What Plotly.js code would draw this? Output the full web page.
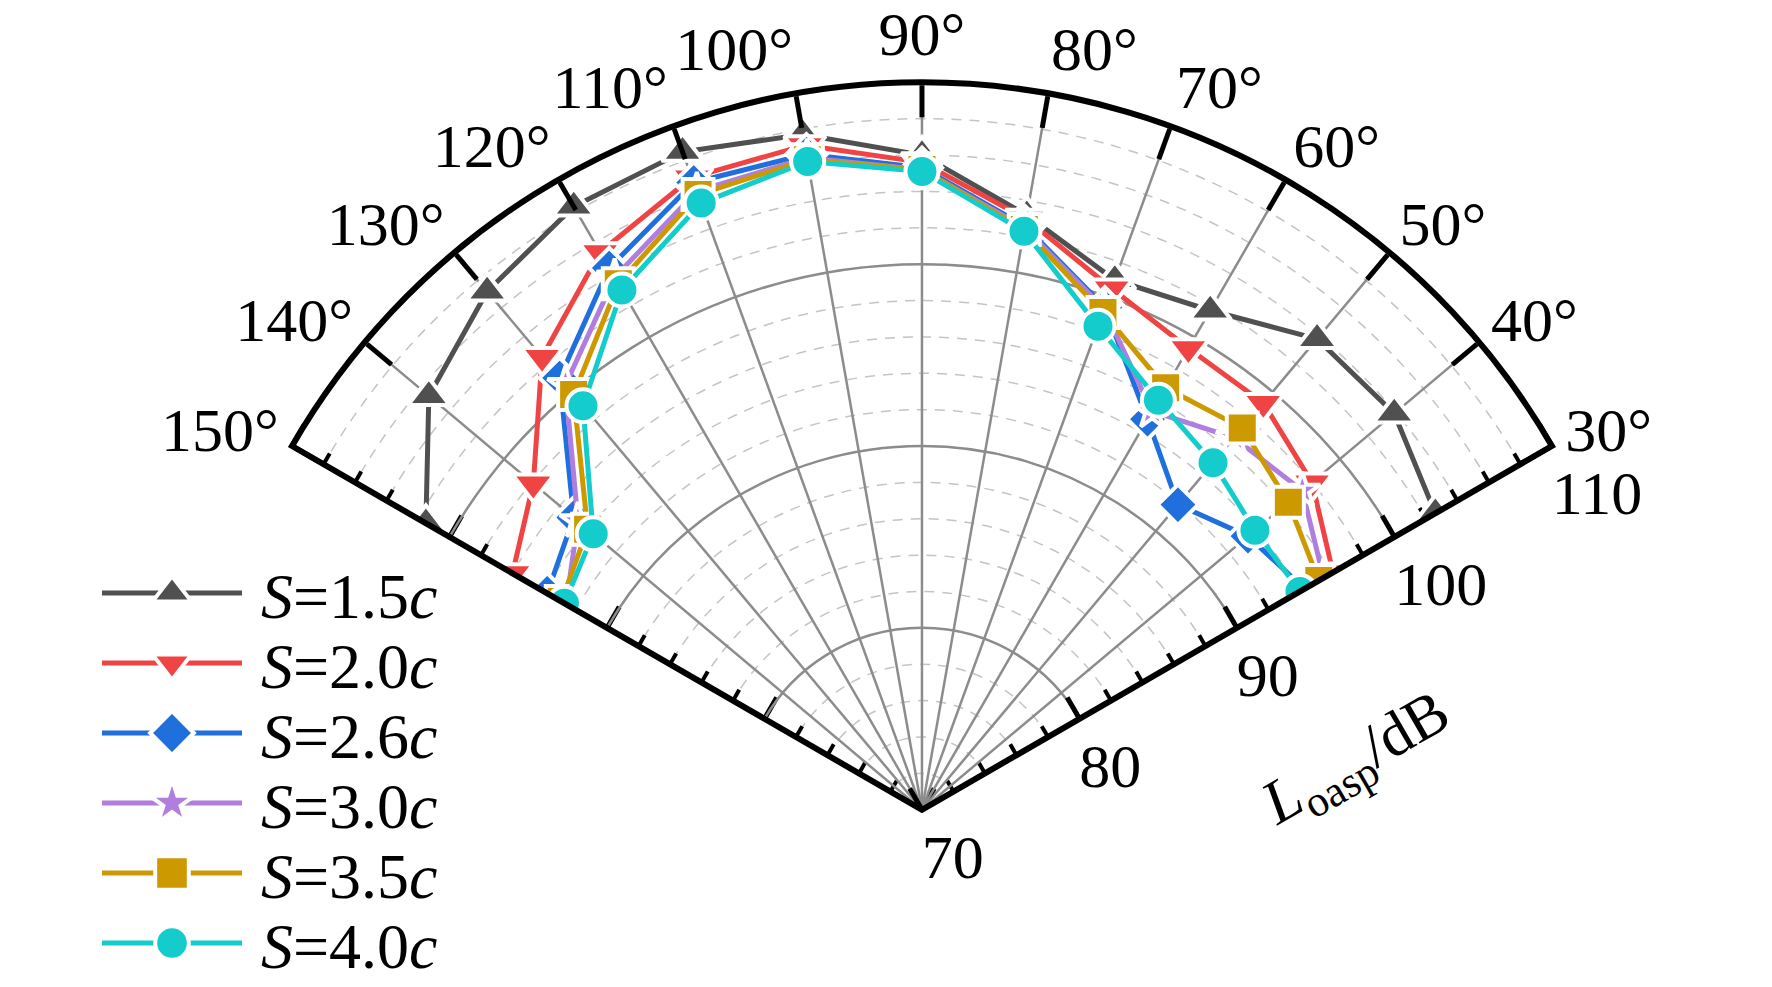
<!DOCTYPE html>
<html>
<head>
<meta charset="utf-8">
<script src="https://cdn.plot.ly/plotly-3.0.1.min.js"></script>
<style>
  html, body { margin: 0; padding: 0; background: #fff; }
  #chart { width: 1772px; height: 987px; }
</style>
</head>
<body>
<div id="chart"></div>
<script>
// angle of each measuring point (deg)
var theta = [30, 40, 50, 60, 70, 80, 90, 100, 110, 120, 130, 140, 150];

// L_oasp in dB for each spacing S
var s15 = [102.6, 103.9, 103.8, 101.7, 101.0, 103.2, 106.0, 107.7, 108.5, 108.3, 107.2, 105.4, 101.5];
var s20 = [96.1, 98.0, 99.2, 99.3, 100.5, 103.0, 105.6, 107.1, 107.0, 105.4, 102.5, 97.9, 96.0];
var s26 = [94.3, 93.4, 91.9, 94.8, 99.4, 102.6, 105.3, 106.6, 106.7, 104.4, 101.0, 95.0, 93.8];
var s30 = [95.5, 97.3, 96.7, 95.3, 99.3, 102.5, 105.2, 106.4, 106.2, 103.8, 100.5, 94.7, 92.6];
var s35 = [95.2, 96.3, 97.4, 96.8, 99.1, 102.4, 105.2, 106.3, 106.0, 103.4, 99.8, 94.0, 92.9];
var s40 = [94.0, 93.9, 94.9, 96.0, 98.3, 102.3, 105.1, 106.2, 105.5, 103.0, 99.0, 93.6, 92.7];

var names = ['<i>S</i>=1.5<i>c</i>', '<i>S</i>=2.0<i>c</i>', '<i>S</i>=2.6<i>c</i>',
             '<i>S</i>=3.0<i>c</i>', '<i>S</i>=3.5<i>c</i>', '<i>S</i>=4.0<i>c</i>'];
var series = [s15, s20, s26, s30, s35, s40];
var colors = ['#505050', '#f04444', '#1f6fdc', '#b07ede', '#cc9900', '#14cccc'];
var symbols = ['triangle-up', 'triangle-down', 'diamond', 'star', 'square', 'circle'];
var sizes = [36, 36, 31, 27, 31, 33];

var font = 'Liberation Serif, Times New Roman, serif';
var dom = {x: [0.1648, 0.8758], y: [0.1793, 0.9169]};
var sector = [30, 150];
var clear = 'rgba(0,0,0,0)';

var traces = series.map(function(r, i){
    return {
        type: 'scatterpolar',
        subplot: 'polar4',
        r: r,
        theta: theta,
        name: names[i],
        mode: 'lines+markers',
        cliponaxis: true,
        line: {color: colors[i], width: 5},
        // white rim gives the small gap between line and symbol
        marker: {symbol: symbols[i], size: sizes[i], color: colors[i],
                 line: {color: '#fff', width: 4}}
    };
});
// empty traces so the helper subplots get drawn
['polar', 'polar2', 'polar3'].forEach(function(id){
    traces.unshift({type: 'scatterpolar', subplot: id, r: [], theta: [],
                    showlegend: false, hoverinfo: 'skip', mode: 'markers'});
});

function hiddenAngular(){
    return {showgrid: false, showline: false, ticks: '', showticklabels: false,
            direction: 'counterclockwise', rotation: 0};
}

var layout = {
    width: 1772,
    height: 987,
    margin: {l: 0, r: 0, t: 0, b: 0, autoexpand: false},
    paper_bgcolor: '#fff',
    font: {family: font, color: '#000'},
    showlegend: true,
    legend: {
        x: 0.0, y: 0.0, xanchor: 'left', yanchor: 'bottom',
        bgcolor: clear,
        font: {family: font, size: 64, color: '#000'},
        itemwidth: 140
    },
    annotations: [{
        text: '<i>L</i><sub>oasp</sub>/dB',
        xref: 'paper', yref: 'paper', x: 0.766, y: 0.229,
        xanchor: 'center', yanchor: 'middle', showarrow: false,
        textangle: -30,
        font: {family: font, size: 62, color: '#000'}
    }],
    // minor dashed rings + minor ticks on the 30 deg edge
    polar: {
        domain: dom, sector: sector, bgcolor: clear,
        radialaxis: {
            range: [70, 110], tickmode: 'linear', tick0: 70, dtick: 2, angle: 30,
            side: 'clockwise', ticks: 'inside', ticklen: 12, tickwidth: 4, tickcolor: '#000',
            showline: false, showticklabels: false,
            showgrid: true, gridcolor: '#c4c4c4', gridwidth: 1.5, griddash: '10px,8px'
        },
        angularaxis: hiddenAngular()
    },
    // minor ticks on the 150 deg edge
    polar2: {
        domain: dom, sector: sector, bgcolor: clear,
        radialaxis: {
            range: [70, 110], tickmode: 'linear', tick0: 70, dtick: 2, angle: 150,
            side: 'clockwise', ticks: 'outside', ticklen: 12, tickwidth: 4, tickcolor: '#000',
            showline: false, showticklabels: false, showgrid: false
        },
        angularaxis: hiddenAngular()
    },
    // major ticks on the 150 deg edge
    polar3: {
        domain: dom, sector: sector, bgcolor: clear,
        radialaxis: {
            range: [70, 110], tickmode: 'linear', tick0: 70, dtick: 10, angle: 150,
            side: 'clockwise', ticks: 'outside', ticklen: 24, tickwidth: 5, tickcolor: '#000',
            showline: false, showticklabels: false, showgrid: false
        },
        angularaxis: hiddenAngular()
    },
    // main subplot
    polar4: {
        domain: dom, sector: sector, bgcolor: clear,
        radialaxis: {
            range: [70, 110], tickmode: 'linear', tick0: 70, dtick: 10, angle: 30,
            side: 'clockwise', ticks: 'inside', ticklen: 24, tickwidth: 5, tickcolor: '#000',
            showline: false, tickangle: 30,
            showgrid: true, gridcolor: '#8c8c8c', gridwidth: 2.5,
            tickfont: {family: font, size: 62, color: '#000'}
        },
        angularaxis: {
            direction: 'counterclockwise', rotation: 0,
            tickmode: 'linear', tick0: 0, dtick: 10,
            ticks: 'inside', ticklen: 32, tickwidth: 5, tickcolor: '#000',
            showline: true, linewidth: 6, linecolor: '#000',
            showgrid: true, gridcolor: '#8c8c8c', gridwidth: 2.5,
            tickfont: {family: font, size: 62, color: '#000'}
        }
    }
};

function parseShift(el){
    var m = /translate\(\s*([-\d.]+)[ ,]+([-\d.]+)/.exec(el.getAttribute('transform') || '');
    return m ? [parseFloat(m[1]), parseFloat(m[2])] : [0, 0];
}

// move an svg text by (dx, dy) screen pixels, whatever frame it sits in
function nudge(t, dx, dy){
    var m = t.parentNode.getScreenCTM();
    if(!m) return;
    m = m.inverse();
    var lx = m.a * dx + m.c * dy, ly = m.b * dx + m.d * dy;
    t.setAttribute('transform', 'translate(' + lx + ',' + ly + ') ' + (t.getAttribute('transform') || ''));
}

Plotly.newPlot('chart', traces, layout, {displayModeBar: false, staticPlot: true}).then(function(gd){
    // radial tick labels sit a bit lower/left in the original
    gd.querySelectorAll('g.polar4 g.radial-axis text').forEach(function(t){
        nudge(t, -16, 10);
    });

    // tighten the legend rows and enlarge its symbols like the original figure
    gd.querySelectorAll('.legend .scrollbox').forEach(function(s){
        s.removeAttribute('clip-path');
    });
    var box = gd.getBoundingClientRect();
    var items = gd.querySelectorAll('.legend .traces');
    items.forEach(function(g, i){
        var line = g.querySelector('.legendlines path');
        var t = parseShift(g);
        if(line){
            var b = line.getBoundingClientRect();
            var dx = 102 - (b.left - box.left);
            var dy = (593 + 70 * i) - ((b.top + b.bottom) / 2 - box.top);
            g.setAttribute('transform', 'translate(' + (t[0] + dx) + ',' + (t[1] + dy) + ')');
        }
        g.querySelectorAll('.legendpoints path').forEach(function(p){
            var tr = p.getAttribute('transform') || '';
            p.setAttribute('transform', tr + ' scale(2.1)');
            p.style.strokeWidth = '1.9px';
        });
        var txt = g.querySelector('.legendtext');
        if(txt){
            txt.setAttribute('x', parseFloat(txt.getAttribute('x') || 0) + 14);
        }
    });
});
</script>
</body>
</html>
